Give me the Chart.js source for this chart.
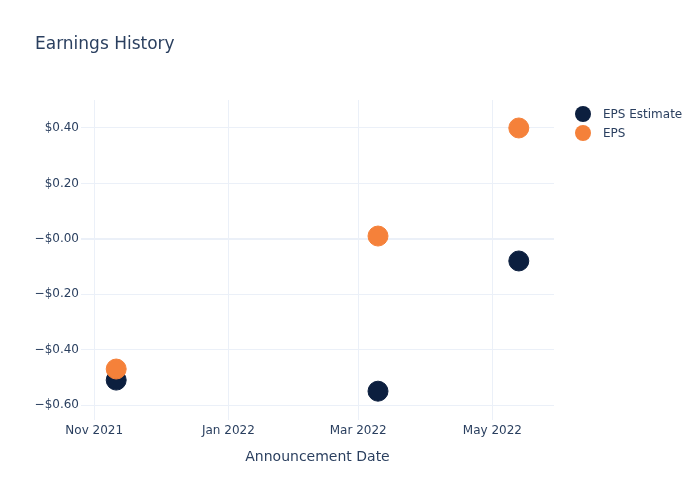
<!DOCTYPE html>
<html>
<head>
<meta charset="utf-8">
<script src="https://cdn.jsdelivr.net/npm/chart.js@4/dist/chart.umd.min.js"></script>
<style>
  html, body { margin: 0; padding: 0; background: #fff; }
  #wrap { width: 700px; height: 500px; position: relative; }
</style>
</head>
<body>
<div id="wrap"><canvas id="chart" width="700" height="500"></canvas></div>
<script>
// ----------------- Data -----------------
const dates = ['2021-11-11', '2022-03-10', '2022-05-13'];
const epsEstimate = [-0.51, -0.55, -0.08];
const eps = [-0.47, 0.01, 0.40];

const xTickDates = ['2021-11-01', '2022-01-01', '2022-03-01', '2022-05-01'];
const yTicks = [-0.6, -0.4, -0.2, 0, 0.2, 0.4];
const monthNames = ['Jan', 'Feb', 'Mar', 'Apr', 'May', 'Jun', 'Jul', 'Aug', 'Sep', 'Oct', 'Nov', 'Dec'];

const FONT = '"DejaVu Sans", Verdana, sans-serif';
const TEXT = '#2a3f5f';
const GRID = '#EBF0F8';
const NAVY = '#0c1f3f';
const ORANGE = '#f5813a';

const toPoints = vals => vals.map((v, i) => ({ x: Date.parse(dates[i]), y: v }));

function fmtMoney(v) {
  const sign = v <= 0 ? '\u2212' : '';
  return sign + '$' + Math.abs(v).toFixed(2);
}

function fmtMonth(ms) {
  const d = new Date(ms);
  return monthNames[d.getUTCMonth()] + ' ' + d.getUTCFullYear();
}

// title, axis title and legend drawn by hand
const decorations = {
  id: 'decorations',
  afterDraw(chart) {
    const ctx = chart.ctx;
    const area = chart.chartArea;
    ctx.save();
    ctx.fillStyle = TEXT;
    ctx.textBaseline = 'middle';

    ctx.font = '17px ' + FONT;
    ctx.textAlign = 'left';
    ctx.fillText('Earnings History', 35, 45);

    ctx.font = '14px ' + FONT;
    ctx.textAlign = 'center';
    ctx.fillText('Announcement Date', (area.left + area.right) / 2, 457);

    const items = [['EPS Estimate', NAVY], ['EPS', ORANGE]];
    ctx.font = '12px ' + FONT;
    ctx.textAlign = 'left';
    items.forEach(([label, color], i) => {
      const y = 115 + i * 19;
      ctx.beginPath();
      ctx.arc(583, y - 1, 8, 0, Math.PI * 2);
      ctx.fillStyle = color;
      ctx.fill();
      ctx.fillStyle = TEXT;
      ctx.fillText(label, 603, y);
    });
    ctx.restore();
  }
};

new Chart(document.getElementById('chart'), {
  type: 'scatter',
  data: {
    datasets: [
      {
        label: 'EPS Estimate',
        data: toPoints(epsEstimate),
        backgroundColor: NAVY,
        borderColor: NAVY,
        pointRadius: 10,
        pointHoverRadius: 10,
        order: 1
      },
      {
        label: 'EPS',
        data: toPoints(eps),
        backgroundColor: ORANGE,
        borderColor: ORANGE,
        pointRadius: 10,
        pointHoverRadius: 10,
        order: 0
      }
    ]
  },
  options: {
    responsive: false,
    animation: false,
    layout: { padding: { top: 100, right: 146, left: 0, bottom: 0 } },
    plugins: {
      legend: { display: false },
      title: { display: false },
      tooltip: { enabled: true }
    },
    scales: {
      x: {
        type: 'linear',
        min: Date.parse('2021-10-26'),
        max: Date.parse('2022-05-29'),
        afterBuildTicks: axis => { axis.ticks = xTickDates.map(d => ({ value: Date.parse(d) })); },
        afterFit: axis => { axis.height = 80; },
        border: { display: false },
        grid: { color: GRID, drawTicks: false },
        ticks: {
          color: TEXT,
          font: { family: FONT, size: 12 },
          padding: 4,
          maxRotation: 0,
          callback: v => fmtMonth(v)
        }
      },
      y: {
        min: -0.654,
        max: 0.501,
        afterBuildTicks: axis => { axis.ticks = yTicks.map(v => ({ value: v })); },
        afterFit: axis => { axis.width = 81; },
        border: { display: false },
        grid: {
          color: GRID,
          drawTicks: false,
          lineWidth: c => (c.tick && c.tick.value === 0 ? 2 : 1)
        },
        ticks: {
          color: TEXT,
          font: { family: FONT, size: 12 },
          padding: 2,
          callback: v => fmtMoney(v)
        }
      }
    }
  },
  plugins: [decorations]
});
</script>
</body>
</html>
